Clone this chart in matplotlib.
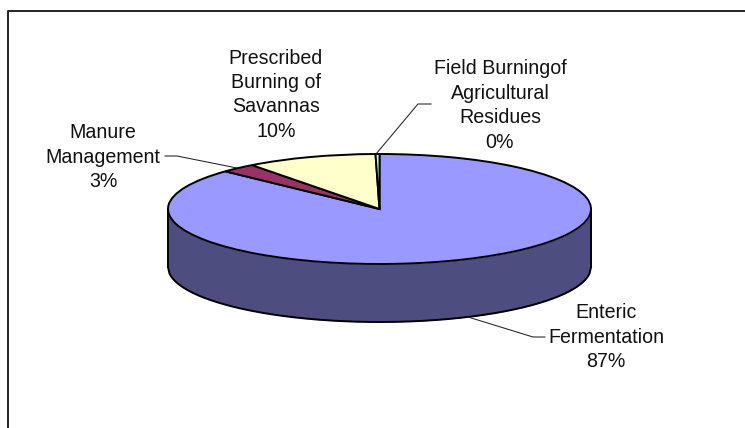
import numpy as np
import matplotlib
matplotlib.use("Agg")
import matplotlib.pyplot as plt

# share of each source, clockwise from the top of the pie
categories = ["Enteric\nFermentation", "Manure\nManagement", "Prescribed\nBurning of\nSavannas", "Field Burningof\nAgricultural\nResidues"]
values = [87.0, 2.7, 10.0, 0.3]
percent_labels = ["87%", "3%", "10%", "0%"]

colors = ["#9999FF", "#993366", "#FFFFCC", "#CCFFFF"]
wall_color = "#4D4D80"

W, H = 745, 428
plt.rcParams["font.family"] = ["Liberation Sans", "DejaVu Sans"]
fig = plt.figure(figsize=(W / 100, H / 100), dpi=100)


def px(x, y):
    # picture pixels to figure fraction
    return x / W, 1 - y / H


# pie axes span the ellipse of the top face
left, right, top, bottom = 168, 591, 154, 264
ax = fig.add_axes([left / W, 1 - bottom / H, (right - left) / W, (bottom - top) / H])
depth = 58 / ((bottom - top) / 2)
edge_w = 1.4

# front wall
t = np.linspace(-1, 1, 300)
lower = -np.sqrt(1 - t ** 2)
ax.fill_between(t, lower - depth, lower, color=wall_color, lw=0, clip_on=False, zorder=1)
ax.plot(t, lower - depth, color="black", lw=edge_w, clip_on=False, zorder=2)
ax.plot([-1, -1], [0, -depth], color="black", lw=edge_w, clip_on=False, zorder=2)
ax.plot([1, 1], [0, -depth], color="black", lw=edge_w, clip_on=False, zorder=2)

wedges, _ = ax.pie(values, colors=colors, startangle=90, counterclock=False, radius=1,
                   wedgeprops={"edgecolor": "black", "linewidth": edge_w, "clip_on": False, "zorder": 3})
ax.set_aspect("auto")
ax.set_xlim(-1, 1)
ax.set_ylim(-1, 1)
ax.axis("off")

# chart frame, only top and left show
fig.add_artist(plt.Line2D(*zip(px(8, H), px(8, 11), px(W, 11)), color="#222222", lw=1.4))

# labels: centre x, first line y
label_pos = [(606, 313), (103, 133), (276, 58), (500, 69)]
line_step = 24.4
for name, pct, (x, y) in zip(categories, percent_labels, label_pos):
    lines = name.split("\n") + [pct]
    for i, line in enumerate(lines):
        fig.text(*px(x, y + i * line_step), line, fontsize=14.1, color="#111111", ha="center", va="center")

# leader lines
leaders = [
    [(468, 317), (533, 337), (545, 337)],
    [(165, 156), (177, 156), (237, 168)],
    [(376, 154), (418, 104), (431, 104)],
]
for pts in leaders:
    fig.add_artist(plt.Line2D(*zip(*[px(a, b) for a, b in pts]), color="#222222", lw=0.75))

fig.savefig("out.png", dpi=100, facecolor="white")
